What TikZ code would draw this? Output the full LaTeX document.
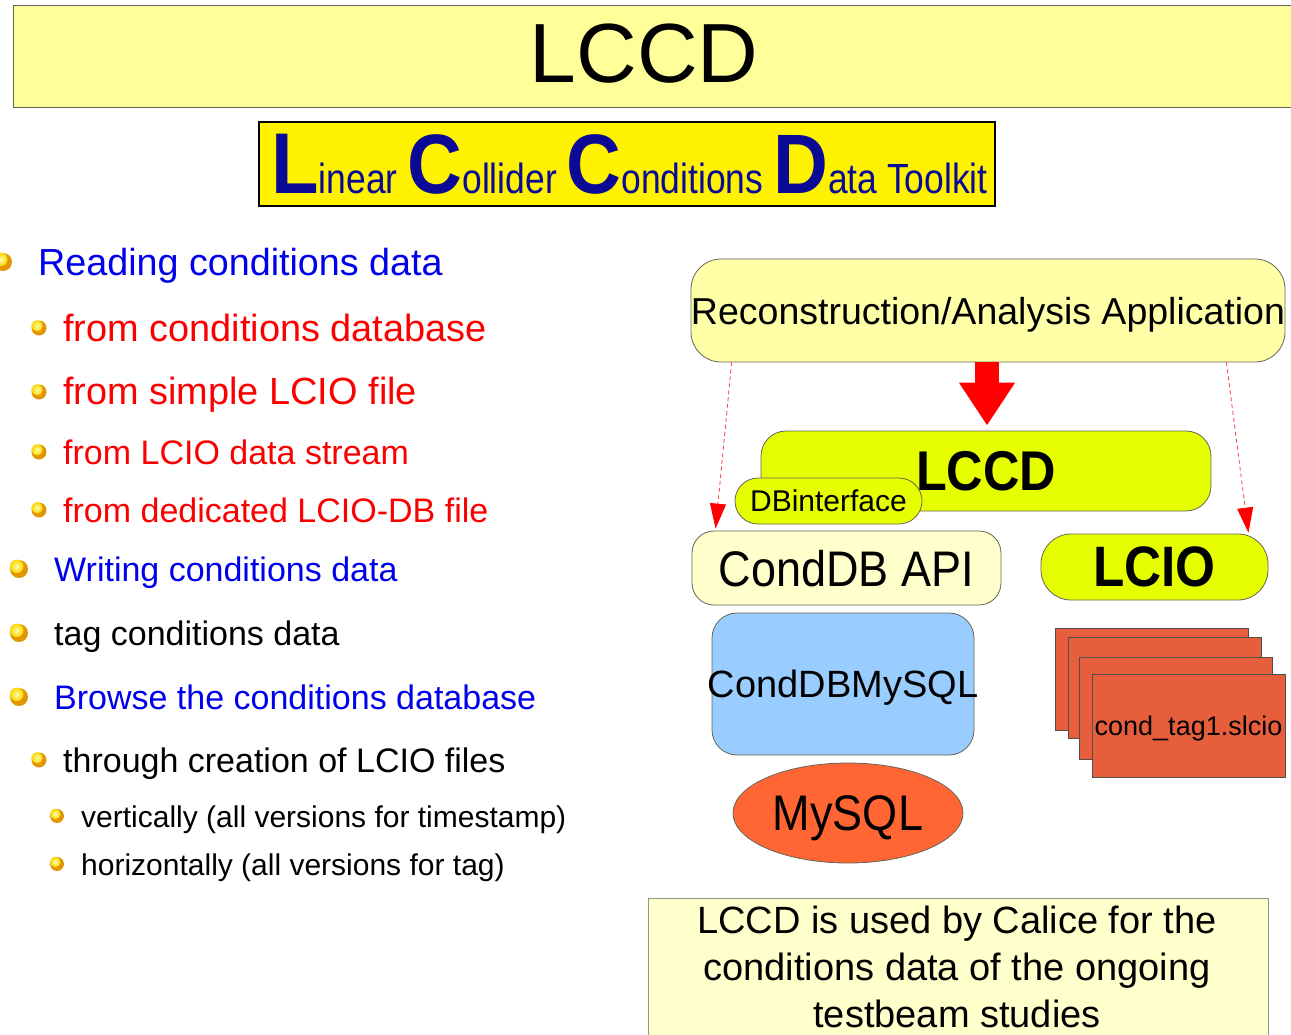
\documentclass[tikz,border=0pt]{standalone}
\usepackage{fontspec}
\setmainfont{Liberation Sans}
\newfontfamily\narrowfont[FakeStretch=0.9]{Liberation Sans}
\newfontfamily\condfont[FakeStretch=0.84]{Liberation Sans}
\usetikzlibrary{arrows.meta,shapes.geometric,calc}
\newcommand\fsz[1]{\fontsize{#1}{#1}\selectfont}
\definecolor{titlefill}{RGB}{255,255,153}
\definecolor{palefill}{RGB}{255,255,204}
\definecolor{recfill}{RGB}{255,255,168}
\definecolor{limefill}{RGB}{230,255,0}
\definecolor{skyfill}{RGB}{153,204,255}
\definecolor{mysqlfill}{RGB}{255,102,51}
\definecolor{filefill}{RGB}{230,94,60}
\definecolor{navy}{RGB}{10,10,150}
\definecolor{txtblue}{RGB}{0,0,235}
\definecolor{txtred}{RGB}{250,0,0}
\definecolor{edgegray}{RGB}{100,100,90}
\definecolor{ballin}{RGB}{255,252,170}
\definecolor{ballmid}{RGB}{250,215,0}
\definecolor{ballout}{RGB}{225,150,0}
\begin{document}
\begin{tikzpicture}[x=1pt,y=-1pt,
  box/.style={draw=edgegray, line width=0.8pt, inner sep=0pt, text depth=0pt},
  rbox/.style={box, rounded corners=#1},
  item/.style={anchor=base west, inner sep=0pt},
  dasharrow/.style={draw=red!75, line width=0.8pt, dash pattern=on 4pt off 3pt,
    -{Triangle[width=16pt,length=25pt,fill=red,color=red]}},
  bigarrow/.style={draw=red, line width=24pt, -{Triangle[width=53pt,length=43pt]}},
  filebox/.style={draw=edgegray!80!black, line width=0.6pt, fill=filefill, minimum width=193pt, inner sep=0pt, text depth=0pt},
  pics/bullet/.style={code={
    \fill[ballout] (0,0) circle (#1);
    \shade[inner color=ballin, outer color=ballmid] (-0.25*#1,0.3*#1) circle (0.75*#1);
  }}
]
\useasboundingbox (0,0) rectangle (1291,1034);

% title
\node[box, fill=titlefill, minimum width=1300pt, minimum height=102pt, anchor=north west] (titlebox) at (13,5) {};
\node[inner sep=0pt, text depth=0pt, font=\fsz{84}] (title) at (644,53.5) {LCCD};

% banner
\node[draw=black, line width=2.5pt, fill=yellow, minimum width=736pt, minimum height=84pt, inner sep=0pt] (bannerbox) at (627,164) {};
\node[anchor=base, inner sep=0pt, text=navy] (banner) at (629.5,193)
  {\scalebox{0.981}{{\narrowfont\bfseries\fsz{88}L}{\condfont\fsz{43}inear }{\narrowfont\bfseries\fsz{86}C}{\condfont\fsz{43}ollider }{\narrowfont\bfseries\fsz{86}C}{\condfont\fsz{43}onditions }{\narrowfont\bfseries\fsz{86}D}{\condfont\fsz{43}ata Toolkit}}};

% left list
\pic at (3,262) {bullet=9pt};
\node[item, text=txtblue, font=\fsz{37.7}] (t1) at (38,275) {Reading conditions data};
\pic at (39,328) {bullet=7.5pt};
\node[item, text=txtred, font=\fsz{37.9}] (t2) at (63,341) {from conditions database};
\pic at (39,392) {bullet=7.5pt};
\node[item, text=txtred, font=\fsz{37.9}] (t3) at (63,404) {from simple LCIO file};
\pic at (39,452) {bullet=7.5pt};
\node[item, text=txtred, font=\fsz{34}] (t4) at (63,464) {from LCIO data stream};
\pic at (39,510) {bullet=7.5pt};
\node[item, text=txtred, font=\fsz{34}] (t5) at (63,522) {from dedicated LCIO-DB file};
\pic at (19,569) {bullet=9pt};
\node[item, text=txtblue, font=\fsz{34}] (t6) at (54,581) {Writing conditions data};
\pic at (19,633) {bullet=9pt};
\node[item, text=black, font=\fsz{34}] (t7) at (54,645) {tag conditions data};
\pic at (19,697) {bullet=9pt};
\node[item, text=txtblue, font=\fsz{34}] (t8) at (54,709) {Browse the conditions database};
\pic at (39,760) {bullet=7.5pt};
\node[item, text=black, font=\fsz{34}] (t9) at (63,772) {through creation of LCIO files};
\pic at (57,816) {bullet=7pt};
\node[item, text=black, font=\fsz{30}] (t10) at (81,827) {vertically (all versions for timestamp)};
\pic at (57,864) {bullet=7pt};
\node[item, text=black, font=\fsz{30}] (t11) at (81,875) {horizontally (all versions for tag)};

% diagram
\node[rbox=30pt, fill=recfill, minimum width=594pt, minimum height=103pt, font=\fsz{37.5}] (recon) at (988,310.5) {\makebox[0pt][c]{Reconstruction/Analysis Application}};
\node[rbox=25pt, fill=limefill, minimum width=450pt, minimum height=80pt, font=\narrowfont\bfseries\fsz{56}] (lccd) at (986,471) {LCCD};
\node[rbox=23pt, fill=limefill, minimum width=187pt, minimum height=46pt, font=\fsz{30}] (dbi) at (828.5,501) {DBinterface};
\node[rbox=22pt, fill=palefill, minimum width=309pt, minimum height=74pt, font=\narrowfont\fsz{50}] (conddb) at (846.5,568) {CondDB API};
\node[rbox=30pt, fill=limefill, minimum width=227pt, minimum height=66pt, font=\narrowfont\bfseries\fsz{57}] (lcio) at (1154.5,567) {LCIO};
\node[rbox=25pt, fill=skyfill, minimum width=262pt, minimum height=142pt, font=\fsz{38}] (mysqlapi) at (843,684) {\makebox[0pt][c]{CondDBMySQL}};
\node[ellipse, box, fill=mysqlfill, minimum width=230pt, minimum height=100pt, font=\narrowfont\fsz{50}] (mysql) at (848,813) {MySQL};

\node[filebox, minimum height=102pt] (f1) at (1152,679) {};
\node[filebox, minimum height=101pt] (f2) at (1164.5,687.5) {};
\node[filebox, minimum height=102pt] (f3) at (1175.5,708) {};
\node[filebox, minimum height=103pt, font=\fsz{27}] (f4) at (1188.5,725.5) {cond\_tag1.slcio};

\draw[bigarrow, shorten >=5pt] (recon.south -| 987,0) -- (lccd.north -| 987,0);
\draw[dasharrow] ($(recon.south west)+(41,0)$) -- ($(conddb.north west)+(24,-2)$);
\draw[dasharrow] ($(recon.south east)+(-59,0)$) -- ($(lcio.north east)+(-20,-1)$);

% bottom note
\node[box, draw=edgegray!70, fill=palefill, minimum width=620pt, minimum height=150pt, anchor=north] (notebox) at (958,898) {};
\node[anchor=north, inner sep=0pt, align=center, font=\fontsize{38}{47}\selectfont] (note) at (957,906)
  {LCCD is used by Calice for the\\conditions data of the ongoing\\testbeam studies};
\end{tikzpicture}
\end{document}
